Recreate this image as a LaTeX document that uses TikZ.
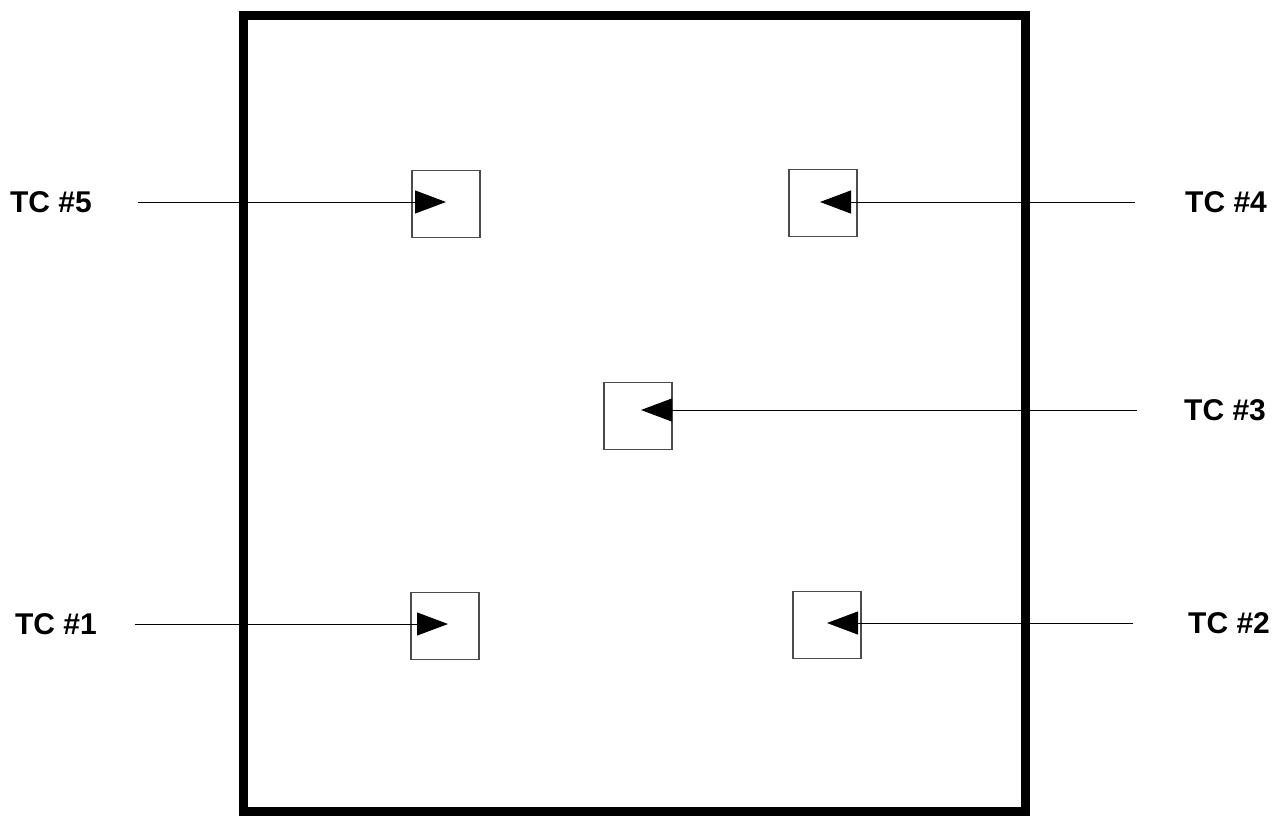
\documentclass[tikz,border=0pt]{standalone}
\usepackage{fontspec}
\setmainfont{Liberation Sans}
\usepackage{tikz}
\usetikzlibrary{arrows.meta, positioning}

\tikzset{
	tcbox/.style={draw=black!70, line width=1.5pt, minimum width=68pt, minimum height=67pt, inner sep=0pt},
	tclabel/.style={font=\fontsize{30}{32}\selectfont\bfseries, inner sep=0pt},
	feed/.style={line width=1pt, -{Triangle[length=31pt,width=23pt]}}
}

\begin{document}
\begin{tikzpicture}[x=1pt, y=-1pt]
		\useasboundingbox (0,0) rectangle (1280,816);
		% outer frame
		\draw[line width=9pt] (243,16) rectangle (1025,811);

		\node[tcbox] (Box5) at (446,204) {};
		\node[tcbox] (Box4) at (823,203) {};
		\node[tcbox] (Box3) at (638,416) {};
		\node[tcbox] (Box1) at (445,626) {};
		\node[tcbox] (Box2) at (827,625) {};

		\coordinate (In5) at (138,202);
		\coordinate (In4) at (1135,202);
		\coordinate (In3) at (1137,410);
		\coordinate (In1) at (135,624);
		\coordinate (In2) at (1133,623);

		\node[tclabel, left=46pt of In5] (TC5) {TC \#5};
		\node[tclabel, right=50pt of In4] (TC4) {TC \#4};
		\node[tclabel, right=47pt of In3] (TC3) {TC \#3};
		\node[tclabel, left=38pt of In1] (TC1) {TC \#1};
		\node[tclabel, right=55pt of In2] (TC2) {TC \#2};

		\draw[feed] (In5) -- (In5 -| Box5.center);
		\draw[feed] (In4) -- ([xshift=-3pt]In4 -| Box4.center);
		\draw[feed] (In3) -- ([xshift=3pt]In3 -| Box3.center);
		\draw[feed] (In1) -- ([xshift=3pt]In1 -| Box1.center);
		\draw[feed] (In2) -- (In2 -| Box2.center);
	\end{tikzpicture}
\end{document}
